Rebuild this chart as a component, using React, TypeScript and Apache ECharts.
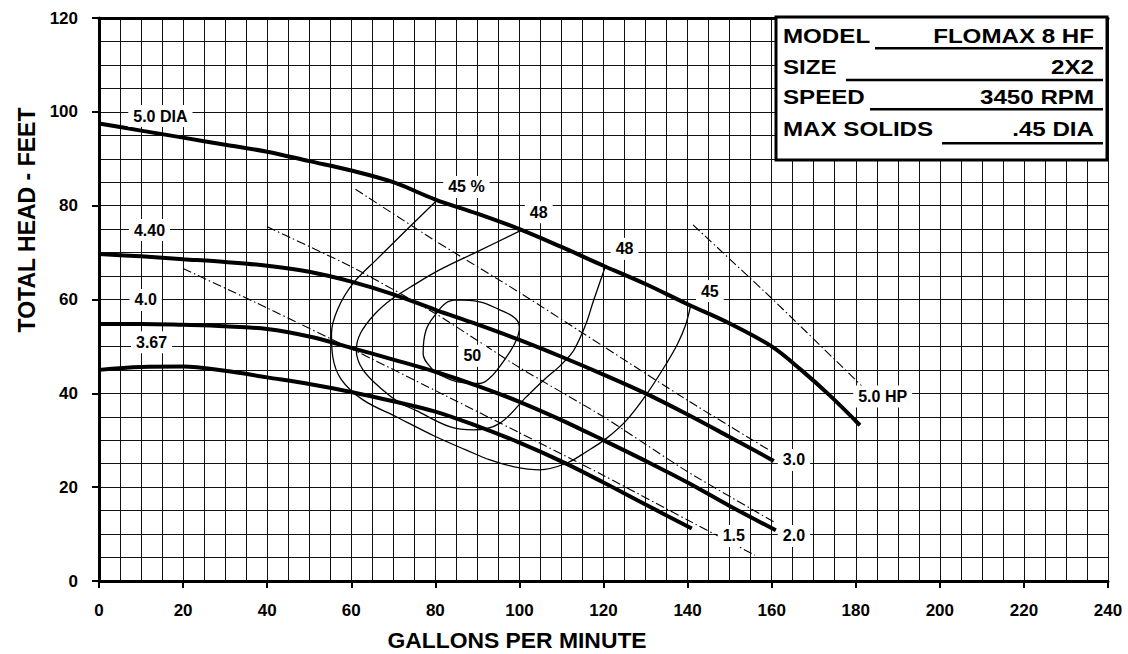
import React, { useEffect, useRef } from "react";
import * as echarts from "echarts";

// Head-capacity curves (impeller diameters)
const dia500: number[][] = [[0,97.5],[10,96],[20,94.5],[30,93],[40,91.5],[50,89.5],[60,87.5],[70,85],[80,81.3],[90,78.3],[100,75],[110,71.2],[120,67.2],[130,63.3],[140,59],[150,54.9],[160,50],[167,45],[174,39.4],[181,33.2]];
const dia440: number[][] = [[0,69.7],[10,69.2],[20,68.6],[30,68],[40,67.2],[50,65.9],[60,63.8],[70,61.1],[80,57.8],[90,54.7],[100,51.4],[110,47.8],[120,44],[130,40],[140,35.5],[150,30.7],[160.5,25.6]];
const dia400: number[][] = [[0,54.8],[10,54.8],[20,54.6],[30,54.3],[40,53.7],[50,52.1],[60,49.7],[70,47.2],[80,44.6],[90,41.6],[100,38.2],[110,34.3],[120,30],[130,25.6],[140,21],[150,16],[161,10.8]];
const dia367: number[][] = [[0,45],[10,45.6],[20,45.7],[30,44.8],[40,43.4],[50,42],[60,40.3],[70,38.3],[80,36.1],[90,33],[100,29.5],[110,25.5],[120,21],[130,16.3],[141,11.2]];

// Efficiency contours
const eff45: number[][] = [[80.2,81],[73.9,75.5],[66,68.5],[60.4,63.4],[56.8,58],[55.3,52.8],[55.6,47.8],[57.6,43],[62.8,38.6],[70.7,35],[80,30.8],[87.4,27.9],[93,25.8],[98.5,24.4],[104.8,23.7],[111.2,25.1],[116,27.6],[120.7,30.4],[125.5,34.3],[130.4,40],[135,46.4],[137.6,50.5],[139.5,54.5],[140.7,58.6]];
const eff48a: number[][] = [[100.5,74.8],[90,70.2],[81,66.3],[74,62.6],[69.5,60],[65.5,56.8],[62.2,52.8],[61.2,49.2],[62.8,45],[67.5,40.7],[71.5,38],[75.5,36.3],[83.4,32.9],[89,32.2],[95.3,33.6],[101.7,39.3],[106,43],[109.6,45.8],[112.5,48.6],[114.3,51.6],[116,55.2],[117.5,59.4],[120.5,67.2]];
const eff50: number[][] = [[85,59.9],[90.5,59.5],[95.3,57.8],[99,56],[100,54],[99.3,51.4],[97.5,48.5],[95.3,45.7],[93,43.3],[90.5,42.1],[85,42.5],[81,44],[79.4,45],[77.1,48.5],[77.8,53.5],[80.2,57],[82.6,59.3],[85,59.9]];

// Horsepower lines
const hp15: number[][] = [[20,66.6],[40,58.2],[60,49.5],[80,40.6],[100,31.6],[120,22.5],[140,13],[156,5.5]];
const hp20: number[][] = [[40,75.5],[60,67],[80,57],[100,45.5],[120,35],[140,23.3],[160.5,12.6]];
const hp30: number[][] = [[61,83.5],[80,72.5],[100,61.5],[120,50],[140,38.5],[160.5,27.3]];
const hp50: number[][] = [[141.3,75.9],[160.4,59.9],[181.5,41.5]];

// Curve labels
const labelNames: string[] = ["5.0 DIA","4.40","4.0","3.67","45 %","48","48","45","50","5.0 HP","3.0","2.0","1.5"];
const labelPos: number[][] = [[14.6,99.1],[12,74.8],[11.1,59.9],[12.5,50.9],[87.4,84],[104.6,78.6],[125,70.8],[145.3,61.8],[88.8,48],[186.4,39.3],[165.3,25.8],[165.3,9.6],[151,9.6]];

// Info box
const boxLabels: string[] = ["MODEL","SIZE","SPEED","MAX SOLIDS"];
const boxValues: string[] = ["FLOMAX 8 HF","2X2","3450 RPM",".45 DIA"];

const FONT = "Arial, 'Liberation Sans', Helvetica, sans-serif";

export default function App() {
  const ref = useRef<HTMLDivElement>(null);
  useEffect(() => {
    if (!ref.current) return;
    const chart = echarts.init(ref.current, undefined, { renderer: "svg" });
    const grid = "#111";
    const headStyle = { color: "#000", width: 4 };
    const effStyle = { color: "#000", width: 1.3 };
    const hpStyle = { color: "#000", width: 1.1, type: [9, 3, 1.5, 3] as any };
    const mkLine = (name: string, data: number[][], lineStyle: any, smooth: number, z = 3) => ({
      type: "line",
      name,
      data,
      symbol: "none",
      smooth,
      lineStyle,
      z,
      silent: true,
    });

    const rowY = [36, 67.5, 97.5, 129];
    const ulY = [48.3, 80, 109.3, 143.3];
    const ulX = [875, 846, 870, 942];
    const graphic: any[] = [
      { type: "rect", z: 100, shape: { x: 776, y: 17, width: 331, height: 143 }, style: { fill: "#fff", stroke: "#000", lineWidth: 3 } },
    ];
    boxLabels.forEach((t, i) => {
      graphic.push({ type: "text", z: 101, x: 783, y: rowY[i], scaleX: 1.15, style: { text: t, fill: "#000", font: `bold 21px ${FONT}`, textAlign: "left", textVerticalAlign: "middle" } });
      graphic.push({ type: "text", z: 101, x: 1094, y: rowY[i], scaleX: 1.15, style: { text: boxValues[i], fill: "#000", font: `bold 21px ${FONT}`, textAlign: "right", textVerticalAlign: "middle" } });
      graphic.push({ type: "line", z: 101, shape: { x1: ulX[i], y1: ulY[i], x2: 1103, y2: ulY[i] }, style: { stroke: "#000", lineWidth: 2.5 } });
    });
    graphic.push({ type: "text", z: 101, x: 27, y: 220, rotation: Math.PI / 2, style: { text: "TOTAL HEAD - FEET", fill: "#000", font: `bold 23px ${FONT}`, textAlign: "center", textVerticalAlign: "middle" } });
    graphic.push({ type: "text", z: 101, x: 517, y: 641, scaleX: 1.04, style: { text: "GALLONS PER MINUTE", fill: "#000", font: `bold 22px ${FONT}`, textAlign: "center", textVerticalAlign: "middle" } });

    const tickLabel = { margin: 21, fontSize: 17, fontWeight: 700, color: "#000", fontFamily: FONT };

    chart.setOption({
      animation: false,
      backgroundColor: "#fff",
      grid: { left: 99, right: 20, top: 18, bottom: 73, containLabel: false },
      xAxis: [
        {
          type: "value", min: 0, max: 240, interval: 20, position: "bottom",
          axisLine: { show: true, onZero: false, lineStyle: { color: "#000", width: 3 } },
          axisTick: { show: true, length: 7, lineStyle: { color: "#000", width: 2 } },
          axisLabel: tickLabel,
          splitLine: { show: true, lineStyle: { color: grid, width: 1 } },
          minorTick: { show: false, splitNumber: 4 },
          minorSplitLine: { show: true, lineStyle: { color: grid, width: 1 } },
        },
        {
          type: "value", min: 0, max: 240, position: "top",
          axisLine: { show: true, onZero: false, lineStyle: { color: "#000", width: 3 } },
          axisTick: { show: false }, axisLabel: { show: false }, splitLine: { show: false },
        },
      ],
      yAxis: {
        type: "value", min: 0, max: 120, interval: 20,
        axisLine: { show: true, onZero: false, lineStyle: { color: "#000", width: 3 } },
        axisTick: { show: true, length: 7, lineStyle: { color: "#000", width: 2 } },
        axisLabel: tickLabel,
        splitLine: { show: true, lineStyle: { color: grid, width: 1 } },
        minorTick: { show: false, splitNumber: 4 },
        minorSplitLine: { show: true, lineStyle: { color: grid, width: 1 } },
      },
      graphic,
      series: [
        mkLine("hp1.5", hp15, hpStyle, 0.2),
        mkLine("hp2.0", hp20, hpStyle, 0.2),
        mkLine("hp3.0", hp30, hpStyle, 0.2),
        mkLine("hp5.0", hp50, hpStyle, 0.2),
        mkLine("eff45", eff45, effStyle, 0.35, 4),
        mkLine("eff48", eff48a, effStyle, 0.35, 4),
        mkLine("eff50", eff50, effStyle, 0.4, 4),
        mkLine("5.0 DIA", dia500, headStyle, 0.35, 5),
        mkLine("4.40", dia440, headStyle, 0.35, 5),
        mkLine("4.0", dia400, headStyle, 0.35, 5),
        mkLine("3.67", dia367, headStyle, 0.35, 5),
        {
          type: "scatter",
          z: 10,
          silent: true,
          symbol: "circle",
          symbolSize: 0,
          itemStyle: { color: "#000", opacity: 1 },
          data: labelNames.map((n, i) => ({ name: n, value: labelPos[i] })),
          label: {
            show: true,
            position: "inside",
            formatter: (p: any) => p.name,
            fontSize: 16,
            fontWeight: 700,
            fontFamily: FONT,
            color: "#000",
            opacity: 1,
            textBorderWidth: 0,
            textBorderColor: "transparent",
            backgroundColor: "#fff",
            padding: [3, 5],
          },
        },
      ],
    });
    return () => chart.dispose();
  }, []);
  return <div ref={ref} style={{ position: "fixed", left: 0, top: 0, width: 1128, height: 654 }} />;
}
